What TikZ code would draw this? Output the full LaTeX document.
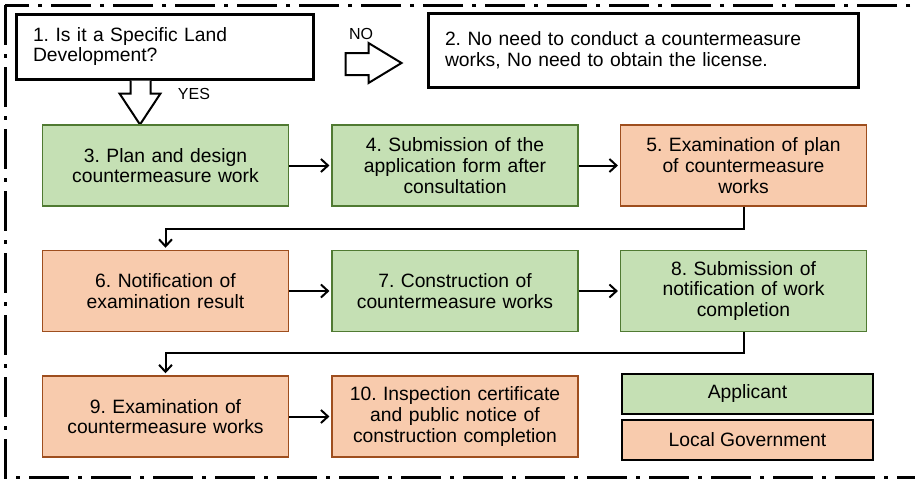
\documentclass[tikz,border=0pt]{standalone}
\usepackage{fontspec}
\setmainfont{Liberation Sans}
\usetikzlibrary{arrows.meta,positioning,calc}
\frenchspacing

\definecolor{appfill}{HTML}{C5E0B4}
\definecolor{appline}{HTML}{507A32}
\definecolor{govfill}{HTML}{F8CBAD}
\definecolor{govline}{HTML}{9E4E1E}

\begin{document}
\begin{tikzpicture}[
    x=1pt,y=-1pt,
    txt/.style={font=\fontsize{19.3}{20.8}\selectfont},
    question/.style={rectangle,draw,line width=3pt,fill=white,txt,align=left,inner xsep=17pt},
    applicant/.style={rectangle,draw=appline,line width=1.5pt,fill=appfill,txt,align=center,minimum width=245pt,minimum height=81pt,text width=239pt},
    government/.style={applicant,draw=govline,fill=govfill},
    legendbox/.style={rectangle,draw,line width=2pt,txt,minimum width=251pt,minimum height=40pt,inner sep=0pt},
    flow/.style={-{Straight Barb[length=7pt,width=13pt]},line width=2pt,shorten >=2pt},
    blockarrow/.style={draw,line width=2pt,fill=white,line join=miter},
    frame/.style={line width=3pt,dash pattern=on 40pt off 9pt on 4pt off 9pt}
]
\useasboundingbox (0,0) rectangle (915,480);

% Outer frame
\draw[frame] (5,5) rectangle (940,477);

% Decision
\node[question,minimum width=297pt,minimum height=65pt,text width=263pt] (q1) at (164.5,46.5)
    {1. Is it a Specific Land\\Development?};
\node[question,minimum width=430pt,minimum height=74pt,text width=396pt] (q2) at (643,50)
    {2. No need to conduct a countermeasure\\works, No need to obtain the license.};

% NO / YES block arrows
\draw[blockarrow] ($(q1.east)+(31,6.5)$) -- ++(23,0) -- ++(0,-10) -- ++(33,20)
    -- ++(-33,20) -- ++(0,-8) -- ++(-23,0) -- cycle;
\node[font=\fontsize{16}{18}\selectfont] (no) at (361,34) {NO};
\draw[blockarrow] ($(q1.south west)+(116,0)$) -- ++(0,13) -- ++(-11,0) -- ++(20.5,31)
    -- ++(20.5,-31) -- ++(-10,0) -- ++(0,-13);
\node[font=\fontsize{16}{18}\selectfont] (yes) at (194,94) {YES};

% First row
\node[applicant] (s3) at (165.5,165.5) {3. Plan and design\\countermeasure work};
\node[applicant] (s4) at (455,165.5) {4. Submission of the\\application form after\\consultation};
\node[government] (s5) at (743.5,165.5) {5. Examination of plan\\of countermeasure\\works};

% Second row
\node[government] (s6) at (165.5,291) {6. Notification of\\examination result};
\node[applicant] (s7) at (455,291) {7. Construction of\\countermeasure works};
\node[applicant] (s8) at (743.5,291) {8. Submission of\\notification of work\\completion};

% Third row
\node[government] (s9) at (165.5,416.5) {9. Examination of\\countermeasure works};
\node[government] (s10) at (455,416.5) {10. Inspection certificate\\and public notice of\\construction completion};

% Legend
\node[legendbox,fill=appfill] (legA) at (747.5,394) {Applicant};
\node[legendbox,fill=govfill,below=4pt of legA] (legB) {Local Government};

% Connections
\draw[flow] (s3) -- (s4);
\draw[flow] (s4) -- (s5);
\draw[flow] (s5.south) -- ++(0,22) -| (s6.north);
\draw[flow] (s6) -- (s7);
\draw[flow] (s7) -- (s8);
\draw[flow] (s8.south) -- ++(0,21) -| (s9.north);
\draw[flow] (s9) -- (s10);

\end{tikzpicture}
\end{document}
